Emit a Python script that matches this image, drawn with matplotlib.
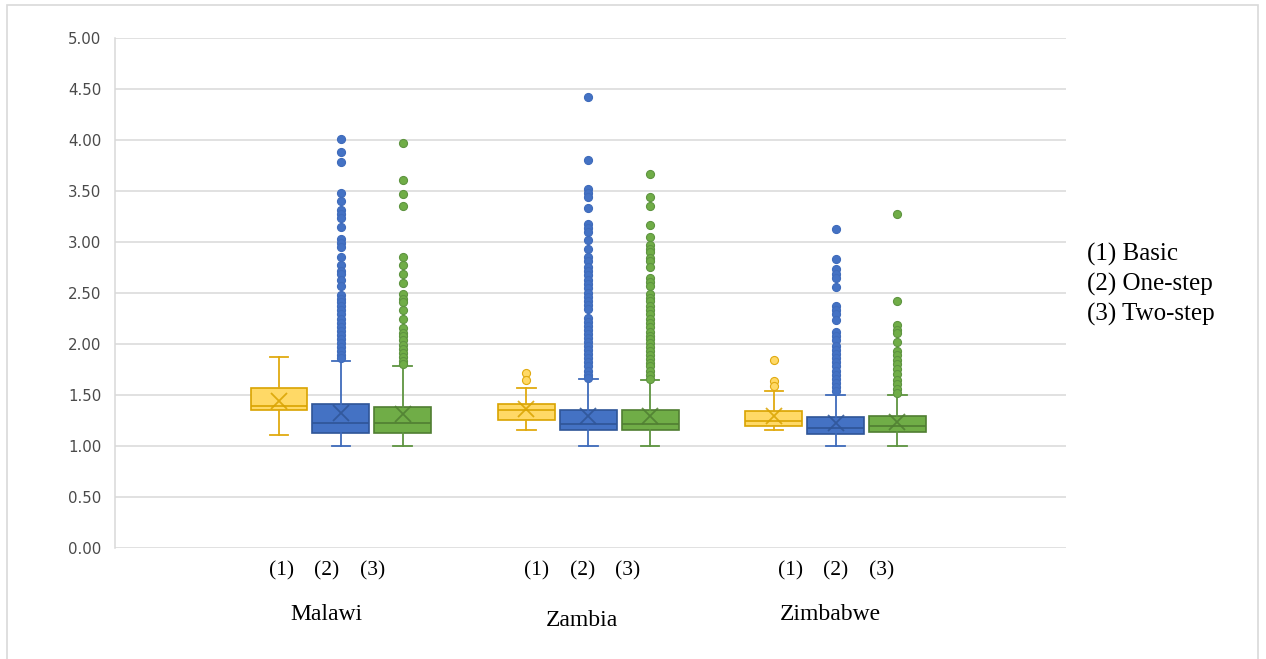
import matplotlib

matplotlib.use("Agg")
import matplotlib.pyplot as plt
from matplotlib.patches import Rectangle
from matplotlib.transforms import blended_transform_factory

COUNTRIES = ["Malawi", "Zambia", "Zimbabwe"]
METHODS = ["(1)", "(2)", "(3)"]
METHOD_NAMES = ["(1) Basic", "(2) One-step", "(3) Two-step"]

# rows = country, columns = method (Basic, One-step, Two-step)
WHISK_LO = [[1.11, 1.00, 1.00], [1.16, 1.00, 1.00], [1.16, 1.00, 1.00]]
Q1 = [[1.35, 1.13, 1.13], [1.26, 1.155, 1.155], [1.195, 1.12, 1.14]]
MEDIAN = [[1.395, 1.225, 1.225], [1.35, 1.22, 1.22], [1.25, 1.18, 1.195]]
Q3 = [[1.57, 1.41, 1.385], [1.41, 1.355, 1.355], [1.345, 1.28, 1.29]]
WHISK_HI = [[1.87, 1.835, 1.78], [1.57, 1.66, 1.65], [1.54, 1.505, 1.505]]
MEAN = [[1.44, 1.32, 1.31], [1.36, 1.29, 1.29], [1.29, 1.23, 1.24]]

OUTLIERS_MALAWI = [
    [],
    [4.01, 3.88, 3.78, 3.48, 3.40, 3.31, 3.27, 3.24, 3.15, 3.03, 2.99, 2.95,
     2.85, 2.77, 2.72, 2.69, 2.63, 2.57, 2.48, 2.44, 2.41, 2.37, 2.33, 2.29,
     2.25, 2.21, 2.17, 2.13, 2.09, 2.05, 2.01, 1.97, 1.93, 1.89, 1.86],
    [3.97, 3.61, 3.47, 3.35, 2.85, 2.77, 2.69, 2.60, 2.49, 2.44, 2.41, 2.33,
     2.25, 2.16, 2.11, 2.08, 2.04, 1.99, 1.95, 1.91, 1.87, 1.83, 1.80],
]
OUTLIERS_ZAMBIA = [
    [1.72, 1.65],
    [4.42, 3.80, 3.52, 3.48, 3.44, 3.33, 3.18, 3.14, 3.10, 3.02, 2.93, 2.85,
     2.81, 2.76, 2.72, 2.68, 2.63, 2.59, 2.55, 2.50, 2.46, 2.42, 2.38, 2.34,
     2.26, 2.22, 2.18, 2.14, 2.10, 2.06, 2.02, 1.98, 1.94, 1.90, 1.86, 1.82,
     1.78, 1.74, 1.70, 1.67],
    [3.67, 3.44, 3.35, 3.17, 3.05, 2.97, 2.93, 2.90, 2.84, 2.81, 2.76, 2.65,
     2.61, 2.57, 2.49, 2.45, 2.42, 2.37, 2.33, 2.29, 2.25, 2.21, 2.17, 2.12,
     2.08, 2.05, 2.01, 1.97, 1.93, 1.89, 1.85, 1.81, 1.78, 1.74, 1.70, 1.66],
]
OUTLIERS_ZIMBABWE = [
    [1.84, 1.64, 1.59],
    [3.13, 2.83, 2.74, 2.69, 2.65, 2.56, 2.37, 2.33, 2.29, 2.24, 2.12, 2.08,
     2.04, 1.98, 1.94, 1.90, 1.86, 1.82, 1.78, 1.74, 1.70, 1.66, 1.62, 1.58,
     1.54],
    [3.27, 2.42, 2.19, 2.14, 2.11, 2.02, 1.93, 1.89, 1.84, 1.80, 1.76, 1.71,
     1.65, 1.61, 1.56, 1.52],
]
OUTLIERS = [OUTLIERS_MALAWI, OUTLIERS_ZAMBIA, OUTLIERS_ZIMBABWE]

FACE = ["#FFD966", "#4472C4", "#70AD47"]
EDGE = ["#D9A300", "#2F5597", "#507E32"]
LINE = ["#E0AA10", "#3F6BBB", "#5E9440"]

SERIF = ["Liberation Serif", "DejaVu Serif"]

fig = plt.figure(figsize=(12.66, 6.59), dpi=100)
ax = fig.add_axes([0.0908, 0.1684, 0.7510, 0.7739])

offsets = [-0.25, 0.0, 0.25]
for m in range(3):
    stats, pos = [], []
    for c in range(3):
        stats.append({
            "whislo": WHISK_LO[c][m], "q1": Q1[c][m], "med": MEDIAN[c][m],
            "q3": Q3[c][m], "whishi": WHISK_HI[c][m], "mean": MEAN[c][m],
            "fliers": OUTLIERS[c][m],
        })
        pos.append(c + offsets[m])
    ax.bxp(
        stats, positions=pos, widths=0.23, capwidths=0.075,
        patch_artist=True, showmeans=True, manage_ticks=False,
        boxprops=dict(facecolor=FACE[m], edgecolor=EDGE[m], linewidth=1.2),
        medianprops=dict(color=EDGE[m], linewidth=1.2),
        whiskerprops=dict(color=LINE[m], linewidth=1.3),
        capprops=dict(color=LINE[m], linewidth=1.3),
        meanprops=dict(marker="x", markersize=11, markeredgecolor=EDGE[m],
                       markeredgewidth=1.3, alpha=0.85),
        flierprops=dict(marker="o", markersize=5.8, markerfacecolor=FACE[m],
                        markeredgecolor=LINE[m], markeredgewidth=0.8),
    )

ax.set_xlim(-0.913, 2.93)
ax.set_ylim(0, 5)
ax.set_yticks([i * 0.5 for i in range(11)])
ax.set_yticklabels([f"{i * 0.5:.2f}" for i in range(11)])
ax.set_xticks([])
ax.tick_params(axis="y", length=0, pad=10, labelsize=10.8, labelcolor="#4A4A4A")
ax.set_axisbelow(True)
ax.yaxis.grid(True, color="#D9D9D9", linewidth=1.1)
for side in ("top", "right", "bottom"):
    ax.spines[side].set_visible(False)
ax.spines["left"].set_color("#D9D9D9")
ax.spines["left"].set_linewidth(1.1)

# method and country labels under each group
trans = blended_transform_factory(ax.transData, fig.transFigure)
label_shift = [-0.057, -0.024, 0.0]
name_y = [0.068, 0.059, 0.067]
for c, country in enumerate(COUNTRIES):
    for m, tag in enumerate(METHODS):
        ax.text(c + label_shift[c] + (m - 1) * 0.184, 0.134, tag,
                transform=trans, ha="center", va="center",
                family=SERIF, fontsize=15.5, color="#000000")
    ax.text(c + label_shift[c] - 0.02 * (c == 2), name_y[c], country,
            transform=trans, ha="center", va="center",
            family=SERIF, fontsize=17, color="#000000")

for i, name in enumerate(METHOD_NAMES):
    fig.text(1087 / 1266, 1 - (254 + i * 30) / 659, name, ha="left",
             va="center", family=SERIF, fontsize=18, color="#000000")

fig.patches.append(Rectangle((7 / 1266, -0.01), 1251 / 1266, 1.01 - 5 / 659,
                             transform=fig.transFigure, fill=False,
                             edgecolor="#D9D9D9", linewidth=1.2))

fig.savefig("out.png")
